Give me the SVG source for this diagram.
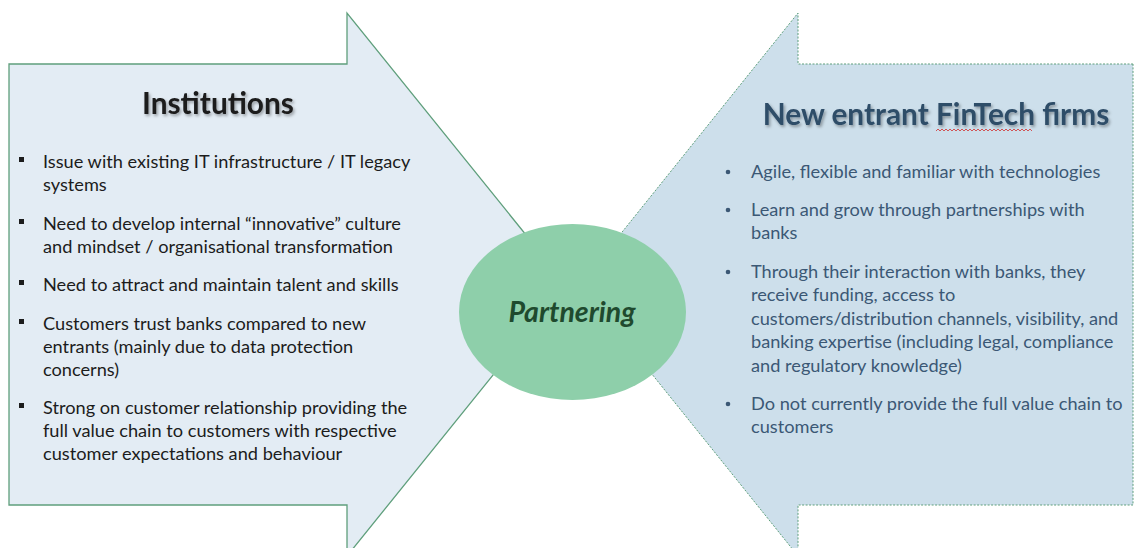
<svg xmlns="http://www.w3.org/2000/svg" width="1135" height="548" viewBox="0 0 1135 548">
<defs>
<filter id="shadow" x="-10%" y="-30%" width="120%" height="160%">
<feDropShadow dx="1.5" dy="2" stdDeviation="1.5" flood-color="#000" flood-opacity="0.35"/>
</filter>
<style>
.left-arrow{fill:#e3ecf4;stroke:#5f9f7c;stroke-width:1.3}
.right-arrow{fill:#cddfeb;stroke:#5f9f7c;stroke-width:1;stroke-dasharray:2 1.5}
.hub{fill:#8ecfaa}
.title{font-family:Lato,"Liberation Sans",sans-serif;font-weight:bold;font-size:29.8px;text-anchor:middle}
.lt{font-family:Lato,"Liberation Sans",sans-serif;font-size:18.2px;fill:#1c1c1c}
.rt{font-family:Lato,"Liberation Sans",sans-serif;font-size:18.2px;fill:#3b5875}
.hubt{font-family:Lato,"Liberation Sans",sans-serif;font-weight:bold;font-style:italic;font-size:28.5px;fill:#1f4a2e;text-anchor:middle}
</style>
</defs>
<g id="institutions">
<polygon class="left-arrow" points="9,64 347,64 347,13 566,284.5 347,556 347,505 9,505"/>
<text class="title" x="218" y="114" fill="#1a1a1a" filter="url(#shadow)">Institutions</text>
<g fill="#1c1c1c">
<rect x="19" y="157" width="5" height="5"/>
<rect x="19" y="219" width="5" height="5"/>
<rect x="19" y="280" width="5" height="5"/>
<rect x="19" y="319" width="5" height="5"/>
<rect x="19" y="403" width="5" height="5"/>
</g>
<text class="lt">
<tspan x="43" y="168">Issue with existing IT infrastructure / IT legacy</tspan>
<tspan x="43" y="191">systems</tspan>
<tspan x="43" y="230">Need to develop internal “innovative” culture</tspan>
<tspan x="43" y="253">and mindset / organisational transformation</tspan>
<tspan x="43" y="291">Need to attract and maintain talent and skills</tspan>
<tspan x="43" y="330">Customers trust banks compared to new</tspan>
<tspan x="43" y="353">entrants (mainly due to data protection</tspan>
<tspan x="43" y="376">concerns)</tspan>
<tspan x="43" y="414">Strong on customer relationship providing the</tspan>
<tspan x="43" y="437">full value chain to customers with respective</tspan>
<tspan x="43" y="460">customer expectations and behaviour</tspan>
</text>
</g>
<g id="fintech">
<polygon class="right-arrow" points="1133,64 798,64 798,13 580,284.5 798,556 798,505 1133,505"/>
<text class="title" x="936" y="125" fill="#2f4d68" filter="url(#shadow)">New entrant FinTech firms</text>
<path d="M936,131 l2,-2 l2,2 l2,-2 l2,2 l2,-2 l2,2 l2,-2 l2,2 l2,-2 l2,2 l2,-2 l2,2 l2,-2 l2,2 l2,-2 l2,2 l2,-2 l2,2 l2,-2 l2,2 l2,-2 l2,2 l2,-2 l2,2 l2,-2 l2,2 l2,-2 l2,2 l2,-2 l2,2 l2,-2 l2,2 l2,-2 l2,2 l2,-2 l2,2 l2,-2 l2,2 l2,-2 l2,2 l2,-2 l2,2 l2,-2 l2,2 l2,-2 l2,2 l2,-2 l2,2" fill="none" stroke="#d03030" stroke-width="0.8"/>
<g fill="#3b5875">
<circle cx="728" cy="172" r="2.3"/>
<circle cx="728" cy="210" r="2.3"/>
<circle cx="728" cy="272" r="2.3"/>
<circle cx="728" cy="404" r="2.3"/>
</g>
<text class="rt">
<tspan x="751" y="178">Agile, flexible and familiar with technologies</tspan>
<tspan x="751" y="216">Learn and grow through partnerships with</tspan>
<tspan x="751" y="239">banks</tspan>
<tspan x="751" y="278">Through their interaction with banks, they</tspan>
<tspan x="751" y="301">receive funding, access to</tspan>
<tspan x="751" y="325">customers/distribution channels, visibility, and</tspan>
<tspan x="751" y="348">banking expertise (including legal, compliance</tspan>
<tspan x="751" y="372">and regulatory knowledge)</tspan>
<tspan x="751" y="410">Do not currently provide the full value chain to</tspan>
<tspan x="751" y="433">customers</tspan>
</text>
</g>
<g id="connectors"></g>
<g id="partnering">
<ellipse class="hub" cx="572.5" cy="312" rx="113.5" ry="88"/>
<text class="hubt" x="572" y="322">Partnering</text>
</g>
</svg>
